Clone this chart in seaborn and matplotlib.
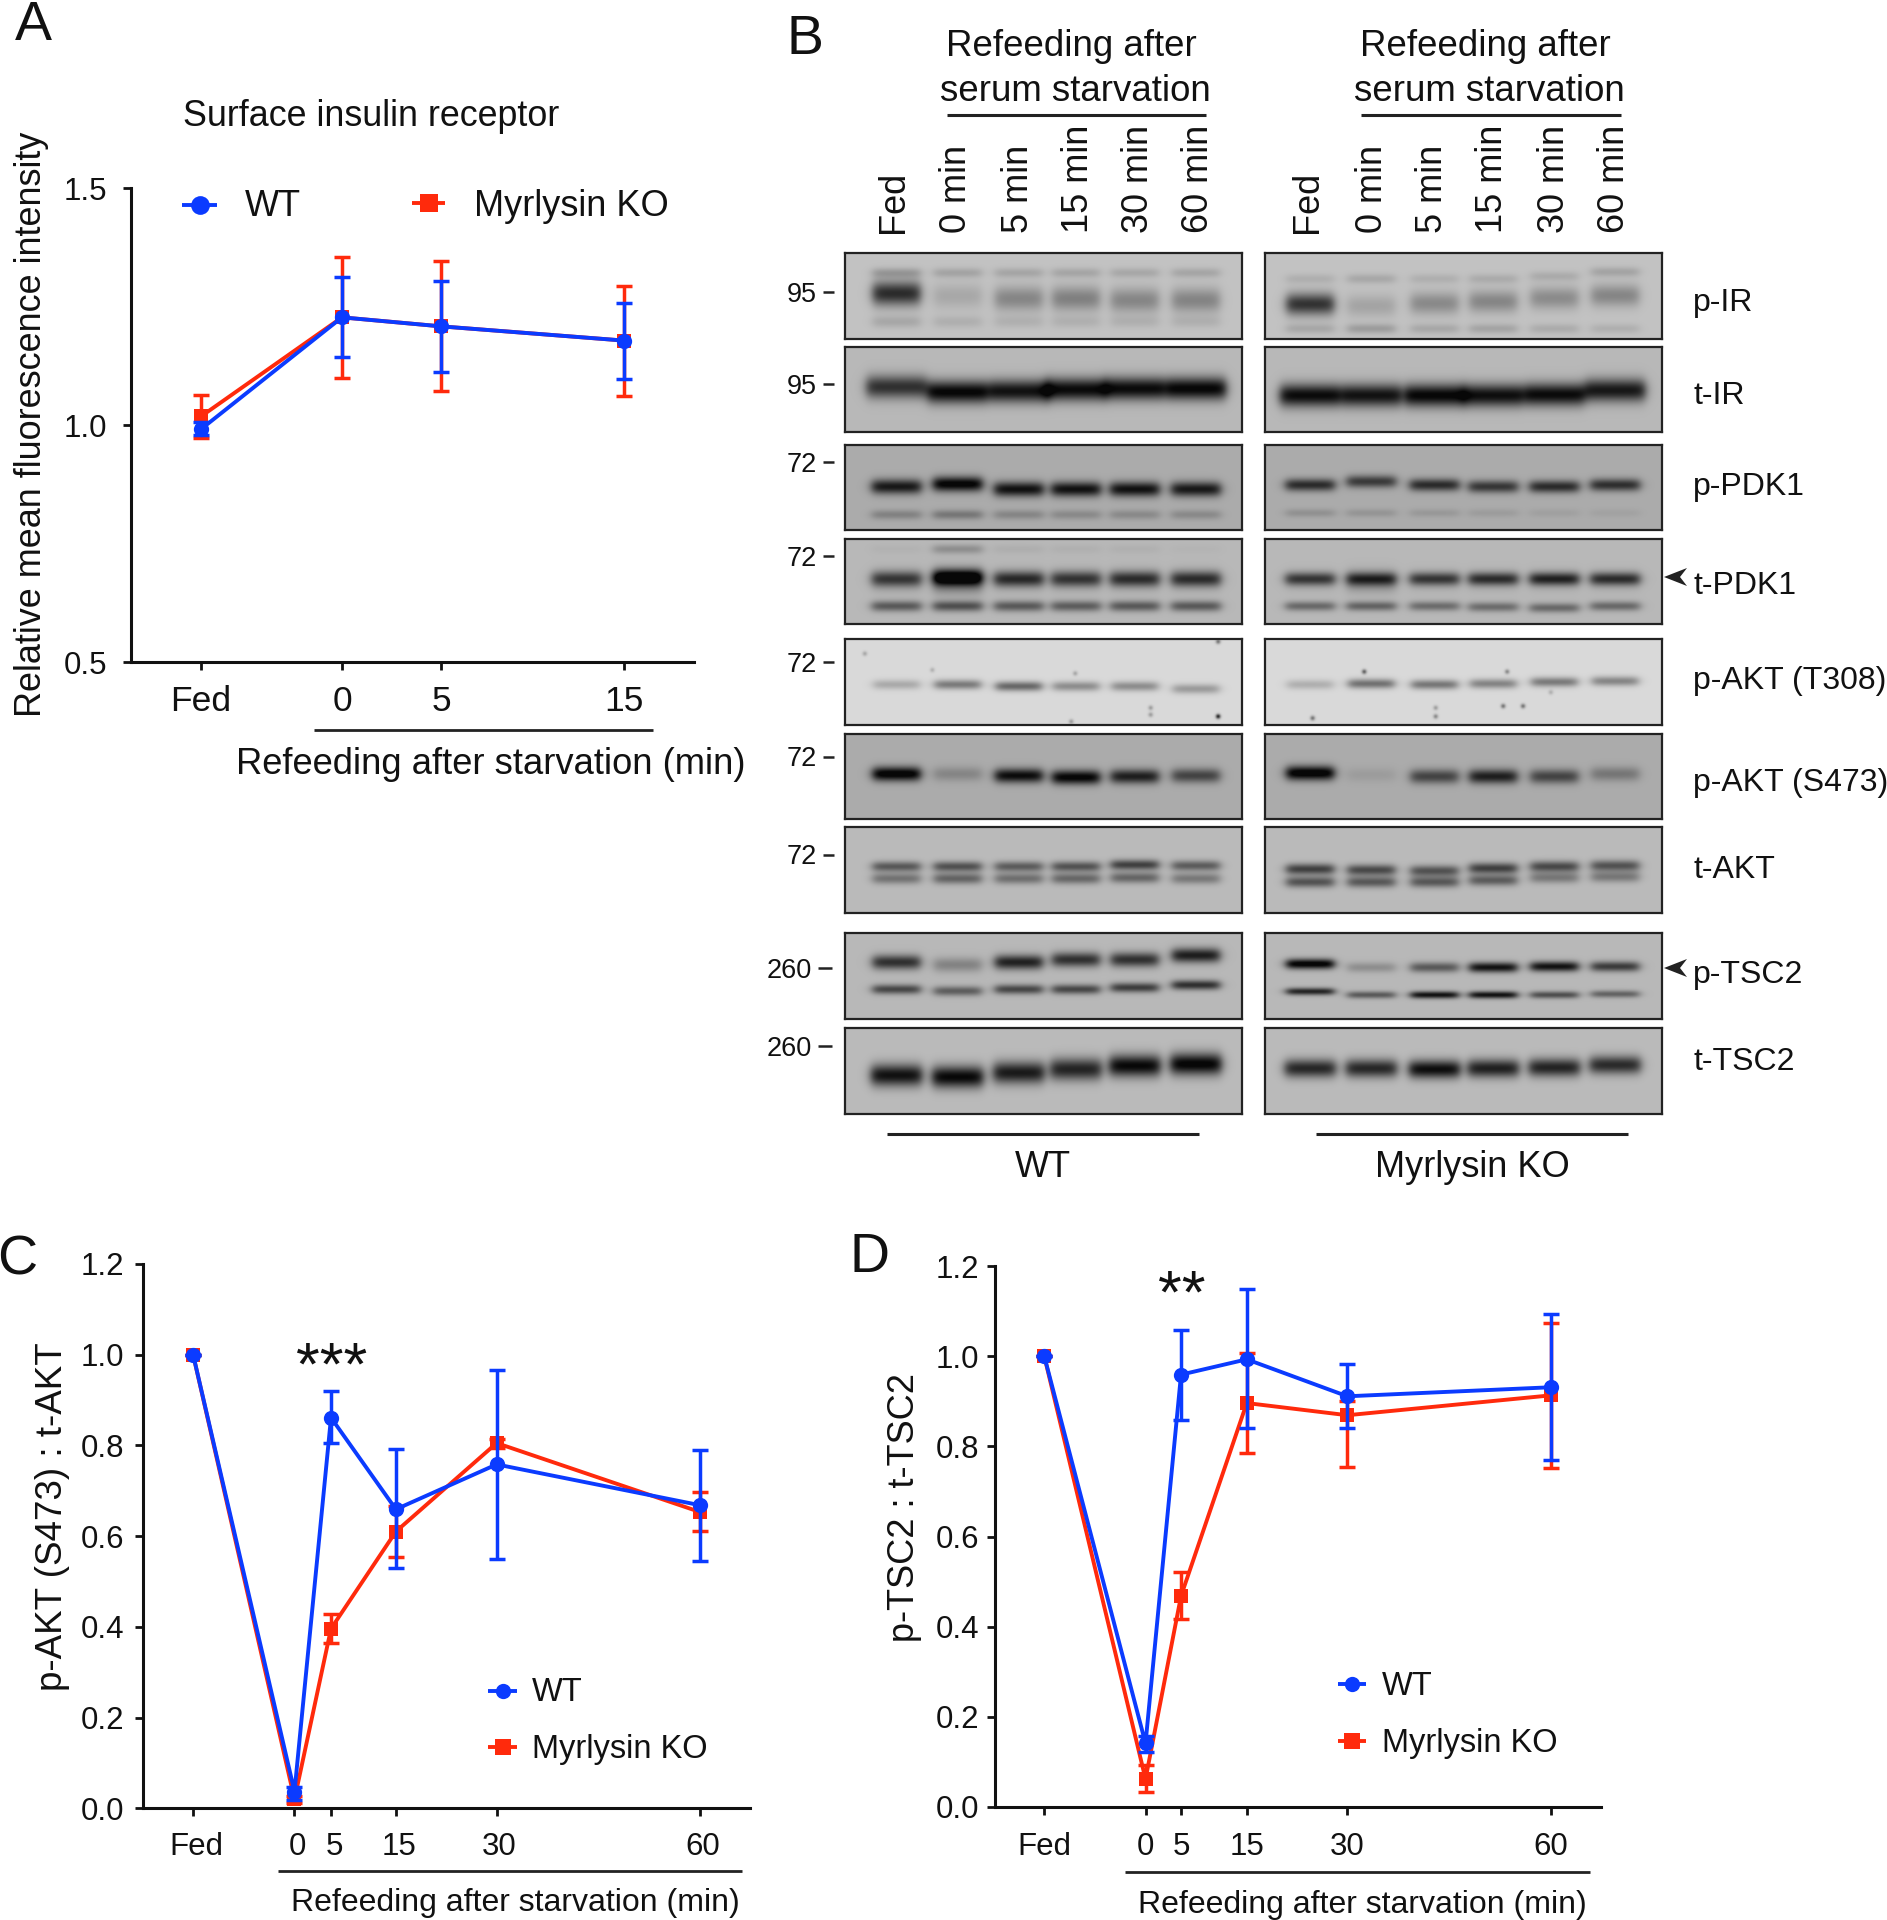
import numpy as np
import pandas as pd
import matplotlib
matplotlib.use("Agg")
import matplotlib.pyplot as plt
from matplotlib.patches import Polygon
from matplotlib.transforms import ScaledTranslation
import seaborn as sns

W, H = 1887, 1920
BLUE, RED = "#0B3BFF", "#FF2A0C"

# ---------------- panel A data
A_X = [-7.5, 0, 5.27, 15]
A_TICKS = ["Fed", "0", "5", "15"]
A_WT = [0.992, 1.228, 1.209, 1.179]
A_WT_LO = [0.979, 1.145, 1.113, 1.099]
A_WT_HI = [1.008, 1.313, 1.305, 1.259]
A_KO = [1.019, 1.228, 1.209, 1.179]
A_KO_LO = [0.974, 1.100, 1.073, 1.062]
A_KO_HI = [1.064, 1.356, 1.346, 1.294]

# ---------------- panel C data
C_X = [-15, 0, 5.4, 15, 29.9, 60]
C_TICKS = ["Fed", "0", "5", "15", "30", "60"]
C_WT = [1.0, 0.037, 0.861, 0.659, 0.758, 0.668]
C_WT_LO = [1.0, 0.018, 0.805, 0.530, 0.550, 0.546]
C_WT_HI = [1.0, 0.047, 0.919, 0.791, 0.965, 0.789]
C_KO = [1.0, 0.020, 0.396, 0.610, 0.805, 0.653]
C_KO_LO = [1.0, 0.012, 0.365, 0.555, 0.795, 0.611]
C_KO_HI = [1.0, 0.028, 0.428, 0.667, 0.815, 0.697]

# ---------------- panel D data
D_X = [-15, 0, 5.26, 15, 29.9, 60]
D_TICKS = ["Fed", "0", "5", "15", "30", "60"]
D_WT = [1.0, 0.141, 0.959, 0.993, 0.911, 0.931]
D_WT_LO = [1.0, 0.122, 0.859, 0.840, 0.841, 0.770]
D_WT_HI = [1.0, 0.158, 1.059, 1.148, 0.982, 1.093]
D_KO = [1.0, 0.062, 0.468, 0.896, 0.869, 0.913]
D_KO_LO = [1.0, 0.033, 0.416, 0.785, 0.754, 0.751]
D_KO_HI = [1.0, 0.093, 0.522, 1.008, 0.900, 1.074]

# ---------------- panel B: band intensities read per lane
LANES = ["Fed", "0 min", "5 min", "15 min", "30 min", "60 min"]
ROW_NAMES = ["p-IR", "t-IR", "p-PDK1", "t-PDK1", "p-AKT (T308)", "p-AKT (S473)", "t-AKT", "p-TSC2", "t-TSC2"]
ROW_MW = ["95", "95", "72", "72", "72", "72", "72", "260", "260"]
ROW_BG = [0.76, 0.72, 0.67, 0.72, 0.85, 0.67, 0.73, 0.72, 0.73]
ROW_HALF = [0.06, 0.076, 0.062, 0.062, 0.058, 0.06, 0.06, 0.06, 0.064]
# each band: (y fraction, thickness, intensities per lane, y shift per lane)
Z = [0, 0, 0, 0, 0, 0]
BANDS_WT = [
    [(.50, .10, [.80, .14, .32, .35, .32, .33], [-.03, -.0, .03, .03, .05, .05]),
     (.23, .04, [.20, .16, .15, .15, .14, .15], Z),
     (.80, .05, [.14, .10, .09, .09, .09, .09], Z)],
    [(.50, .095, [.72, .95, .88, .92, .92, .95], [-.03, .03, .02, 0, -.01, -.01])],
    [(.49, .062, [.78, .92, .82, .82, .82, .78], [0, -.03, .03, .03, .03, .03]),
     (.82, .04, [.22, .28, .20, .18, .18, .18], Z)],
    [(.47, .065, [.62, .95, .72, .66, .70, .70], [0, -.02, 0, 0, 0, 0]),
     (.50, .10, [.08, .40, .05, .05, .05, .05], Z),
     (.79, .045, [.50, .55, .50, .48, .50, .50], Z),
     (.12, .04, [.03, .22, .05, .04, .04, .02], Z)],
    [(.53, .04, [.25, .50, .60, .40, .40, .33], [0, 0, .02, .02, .02, .05])],
    [(.48, .06, [.95, .20, .85, .90, .75, .55], [-.01, -.01, .01, .03, .02, .01])],
    [(.46, .042, [.52, .56, .50, .55, .65, .50], [0, 0, 0, 0, -.02, -.01]),
     (.60, .045, [.38, .46, .40, .44, .45, .35], [0, 0, 0, 0, -.01, 0])],
    [(.34, .06, [.72, .28, .80, .72, .72, .82], [0, .03, 0, -.03, -.03, -.08]),
     (.655, .04, [.60, .48, .60, .60, .65, .72], [0, .02, 0, 0, -.02, -.05])],
    [(.55, .09, [.90, .95, .85, .80, .95, .98], [0, .02, -.03, -.07, -.11, -.13])],
]
BANDS_KO = [
    [(.595, .09, [.76, .16, .30, .32, .29, .32], [0, .02, -.01, -.03, -.07, -.10]),
     (.30, .04, [.10, .14, .10, .12, .12, .16], [0, 0, 0, 0, -.03, -.08]),
     (.88, .04, [.14, .20, .14, .16, .12, .10], Z)],
    [(.57, .095, [.92, .88, .95, .90, .92, .85], [0, 0, 0, 0, -.01, -.06])],
    [(.47, .052, [.68, .60, .68, .62, .68, .66], [0, -.04, 0, .02, .02, 0]),
     (.80, .035, [.14, .12, .10, .08, .06, .05], Z)],
    [(.47, .055, [.65, .60, .65, .70, .76, .70], Z),
     (.50, .09, [.05, .25, .05, .05, .05, .05], Z),
     (.79, .04, [.42, .45, .40, .40, .42, .42], [0, 0, 0, .01, .02, 0])],
    [(.53, .04, [.22, .55, .52, .45, .50, .44], [0, -.01, 0, -.01, -.03, -.04])],
    [(.48, .06, [.97, .08, .55, .75, .55, .28], [-.02, 0, .02, .02, .02, -.01])],
    [(.49, .045, [.65, .60, .55, .65, .60, .55], [0, .01, .02, -.01, -.03, -.04]),
     (.64, .045, [.55, .52, .52, .50, .35, .35], [0, 0, 0, -.02, -.05, -.06])],
    [(.38, .042, [1.0, .22, .50, .88, .88, .66], [-.02, .02, .02, .02, .01, .01]),
     (.70, .03, [.78, .50, .88, .88, .56, .45], [-.02, .02, .02, .02, .02, .01])],
    [(.47, .075, [.78, .78, .92, .82, .80, .76], [0, 0, .01, 0, -.01, -.04])],
]
# dust spots on the p-AKT (T308) membrane: x, y, darkness
SPECKS_WT = [(.94, .90, .9), (.94, .03, .5), (.77, .88, .3), (.58, .40, .25), (.05, .17, .25), (.22, .36, .2), (.77, .80, .3), (.57, .96, .3)]
SPECKS_KO = [(.25, .38, .6), (.61, .38, .4), (.60, .78, .5), (.65, .78, .5), (.12, .92, .5), (.43, .90, .4), (.43, .80, .3), (.72, .62, .2)]

# ---------------- pixel layout of panel B
BOX_X = [(845, 1242), (1265, 1662)]
BOX_Y = [(253, 339), (347, 432), (445, 530), (539, 624), (639, 725), (734, 819), (827, 913), (933, 1019), (1028, 1114)]
LANE_FRAC = [[.13, .284, .438, .582, .73, .884], [.114, .268, .427, .575, .729, .882]]
LANE_TXT_X = [[893, 957, 1018, 1078, 1139, 1199], [1308, 1372, 1432, 1493, 1554, 1615]]
ROW_LABEL_Y = [300, 394, 484, 584, 679, 781, 868, 973, 1060]
MW_Y = [292, 384, 462, 556, 662, 757, 855, 968, 1046]

sns.set_style("ticks")
plt.rcParams["font.family"] = ["Liberation Sans", "DejaVu Sans"]

fig = plt.figure(figsize=(W / 100, H / 100), dpi=100, facecolor="white")


def px_axes(l, t, r, b):
    return fig.add_axes([l / W, 1 - b / H, (r - l) / W, (b - t) / H])


over = fig.add_axes([0, 0, 1, 1], zorder=20)
over.set_xlim(0, W)
over.set_ylim(H, 0)
over.axis("off")
over.patch.set_alpha(0)


def T(x, y, s, size, ha="center", va="center", rot=0, **kw):
    if rot:
        x += 3
    else:
        y += 2.5
    over.text(x, y, s, fontsize=size, ha=ha, va=va, rotation=rot, color="#111111", **kw)


def L(x0, x1, y0, y1=None, lw=2.0, color="#222222"):
    over.plot([x0, x1], [y0, y0 if y1 is None else y1], color=color, lw=lw, solid_capstyle="butt")


def line_panel(box, xlim, ylim, yticks, xs, ticks, wt, wt_lo, wt_hi, ko, ko_lo, ko_hi,
               ypad, xpad, ysize, xsize, dx=0):
    ax = px_axes(*box)
    for name, y, lo, hi, col, mk, ms in [("Myrlysin KO", ko, ko_lo, ko_hi, RED, "s", 10.5),
                                         ("WT", wt, wt_lo, wt_hi, BLUE, "o", 11)]:
        df = pd.DataFrame({"x": xs, "y": y})
        sns.lineplot(data=df, x="x", y="y", color=col, lw=2.8, marker=mk, markersize=ms,
                     markeredgecolor=col, markeredgewidth=0, errorbar=None, sort=False,
                     ax=ax, clip_on=False, zorder=3)
        y_a = np.array(y)
        ax.errorbar(xs, y, yerr=[y_a - np.array(lo), np.array(hi) - y_a], fmt="none", ecolor=col,
                    elinewidth=2.5, capsize=5.8, capthick=2.5, clip_on=False, zorder=3)
    ax.set_xlim(*xlim)
    ax.set_ylim(*ylim)
    ax.set_xticks(xs)
    ax.set_xticklabels(ticks)
    ax.set_yticks(yticks)
    ax.set_yticklabels([f"{v:.1f}" for v in yticks])
    ax.set_xlabel("")
    ax.set_ylabel("")
    ax.tick_params(axis="y", length=5.5, width=2.0, pad=ypad, labelsize=ysize, color="#111111", labelcolor="#111111")
    ax.tick_params(axis="x", length=5.8, width=2.0, pad=xpad, labelsize=xsize, color="#111111", labelcolor="#111111")
    for s in ["top", "right"]:
        ax.spines[s].set_visible(False)
    for s in ["left", "bottom"]:
        ax.spines[s].set_linewidth(2.2)
        ax.spines[s].set_color("#111111")
    if dx:
        off = ScaledTranslation(dx / 100, 0, fig.dpi_scale_trans)
        for lab in ax.get_xticklabels():
            lab.set_transform(lab.get_transform() + off)
    return ax


# Panel A
ax_a = line_panel((131, 188.4, 694, 662.5), (-11.22, 18.72), (0.5, 1.5), [0.5, 1.0, 1.5], A_X, A_TICKS,
                  A_WT, A_WT_LO, A_WT_HI, A_KO, A_KO_LO, A_KO_HI, 11.5, 10.5, 22.5, 25.5)
# Panel C
ax_c = line_panel((143, 1263.8, 750, 1808.4), (-22.41, 67.38), (0, 1.2), [0, .2, .4, .6, .8, 1.0, 1.2], C_X, C_TICKS,
                  C_WT, C_WT_LO, C_WT_HI, C_KO, C_KO_LO, C_KO_HI, 8, 11, 22.5, 22.5, dx=3)
# Panel D
ax_d = line_panel((995, 1266, 1601, 1807), (-22.3, 67.48), (0, 1.2), [0, .2, .4, .6, .8, 1.0, 1.2], D_X, D_TICKS,
                  D_WT, D_WT_LO, D_WT_HI, D_KO, D_KO_LO, D_KO_HI, 6, 12.5, 22.5, 22.5, dx=0)


def legend_key(x0, x1, y, col, mk, ms):
    over.plot([x0, x1], [y, y], color=col, lw=2.8, solid_capstyle="butt")
    over.plot([(x0 + x1) / 2], [y], color=col, marker=mk, ms=ms, mew=0, ls="none")


# legends & panel A text
legend_key(182, 217, 205, BLUE, "o", 13.5)
T(245, 204, "WT", 26, ha="left")
legend_key(412, 445, 203, RED, "s", 12.5)
T(474, 204, "Myrlysin KO", 26, ha="left")
T(371, 114, "Surface insulin receptor", 25.8)
T(29, 424, "Relative mean fluorescence intensity", 25.9, rot=90)
L(314, 653, 729.5)
T(491, 762, "Refeeding after starvation (min)", 26.2)

legend_key(488, 517, 1691, BLUE, "o", 11)
T(532, 1690, "WT", 23.5, ha="left")
legend_key(488, 517, 1747, RED, "s", 11)
T(532, 1747, "Myrlysin KO", 23.5, ha="left")
T(50, 1517, "p-AKT (S473) : t-AKT", 26.5, rot=90)
L(278, 742, 1871)
T(515, 1901, "Refeeding after starvation (min)", 23)
T(332, 1366, "***", 44)

legend_key(1338, 1366, 1684, BLUE, "o", 11)
T(1382, 1684, "WT", 23.5, ha="left")
legend_key(1338, 1366, 1741, RED, "s", 11)
T(1382, 1741, "Myrlysin KO", 23.5, ha="left")
T(902, 1508, "p-TSC2 : t-TSC2", 26, rot=90)
L(1125, 1590, 1872)
T(1362, 1902, "Refeeding after starvation (min)", 23)
T(1182, 1294, "**", 44)

# panel letters
T(33, 23, "A", 40)
T(805, 37, "B", 40)
T(17, 1258, "C", 40)
T(870, 1256, "D", 40)

# Panel B header
for side, (cx1, cx2, lx0, lx1) in enumerate([(1071, 1075, 947, 1206), (1485, 1489, 1361, 1620.5)]):
    T(cx1, 44, "Refeeding after", 26.4)
    T(cx2, 89, "serum starvation", 26.4)
    L(lx0, lx1, 115, lw=2.2)
    for x, lab in zip(LANE_TXT_X[side], LANES):
        over.text(x, 233, lab, fontsize=26, ha="center", va="bottom", rotation=90, color="#111111")


def blot_matrix(h, w, bg, bands, lanes, half, specks=()):
    yy, xx = np.mgrid[0:h, 0:w]
    fx, fy = (xx + .5) / w, (yy + .5) / h
    dark = np.zeros((h, w))
    for y0, sig, vals, shifts in bands:
        for c, v, sh in zip(lanes, vals, shifts):
            xprof = 1 / (1 + np.exp((np.abs(fx - c) - half) / 0.007))
            dark += v * xprof * np.exp(-0.5 * ((fy - y0 - sh) / sig) ** 2)
    for sx, sy, v in specks:
        dark += v * np.exp(-0.5 * (((fx - sx) * w / 1.7) ** 2 + ((fy - sy) * h / 1.7) ** 2))
    return np.clip(bg - 0.74 * dark, 0.03, 1)


for r, (top, bot) in enumerate(BOX_Y):
    for side, (x0, x1) in enumerate(BOX_X):
        ax = px_axes(x0, top, x1, bot)
        bands = (BANDS_WT if side == 0 else BANDS_KO)[r]
        specks = ((SPECKS_WT if side == 0 else SPECKS_KO) if ROW_NAMES[r] == "p-AKT (T308)" else ())
        m = blot_matrix(bot - top, x1 - x0, ROW_BG[r], bands, LANE_FRAC[side], ROW_HALF[r], specks)
        sns.heatmap(m, vmin=0, vmax=1, cmap="gray", cbar=False, xticklabels=False, yticklabels=False, ax=ax)
        for s in ax.spines.values():
            s.set_visible(True)
            s.set_linewidth(1.6)
            s.set_color("#222222")
    T(1693, ROW_LABEL_Y[r], ROW_NAMES[r], 23, ha="left")
    is260 = ROW_MW[r] == "260"
    T(812 if is260 else 817, MW_Y[r], ROW_MW[r], 19.5, ha="right")
    L(817.5 if is260 else 822.5, 832 if is260 else 834, MW_Y[r], lw=1.8)

for yc in [577, 968]:
    over.add_patch(Polygon([(1664, yc), (1687, yc - 9), (1680, yc), (1687, yc + 9)], closed=True,
                           fc="#222222", ec="none"))

L(887, 1198.5, 1133.6, lw=2.2)
L(1316, 1628, 1133.6, lw=2.2)
T(1042.5, 1165, "WT", 26)
T(1472, 1165, "Myrlysin KO", 26)

fig.savefig("out.png", dpi=100, facecolor="white")
